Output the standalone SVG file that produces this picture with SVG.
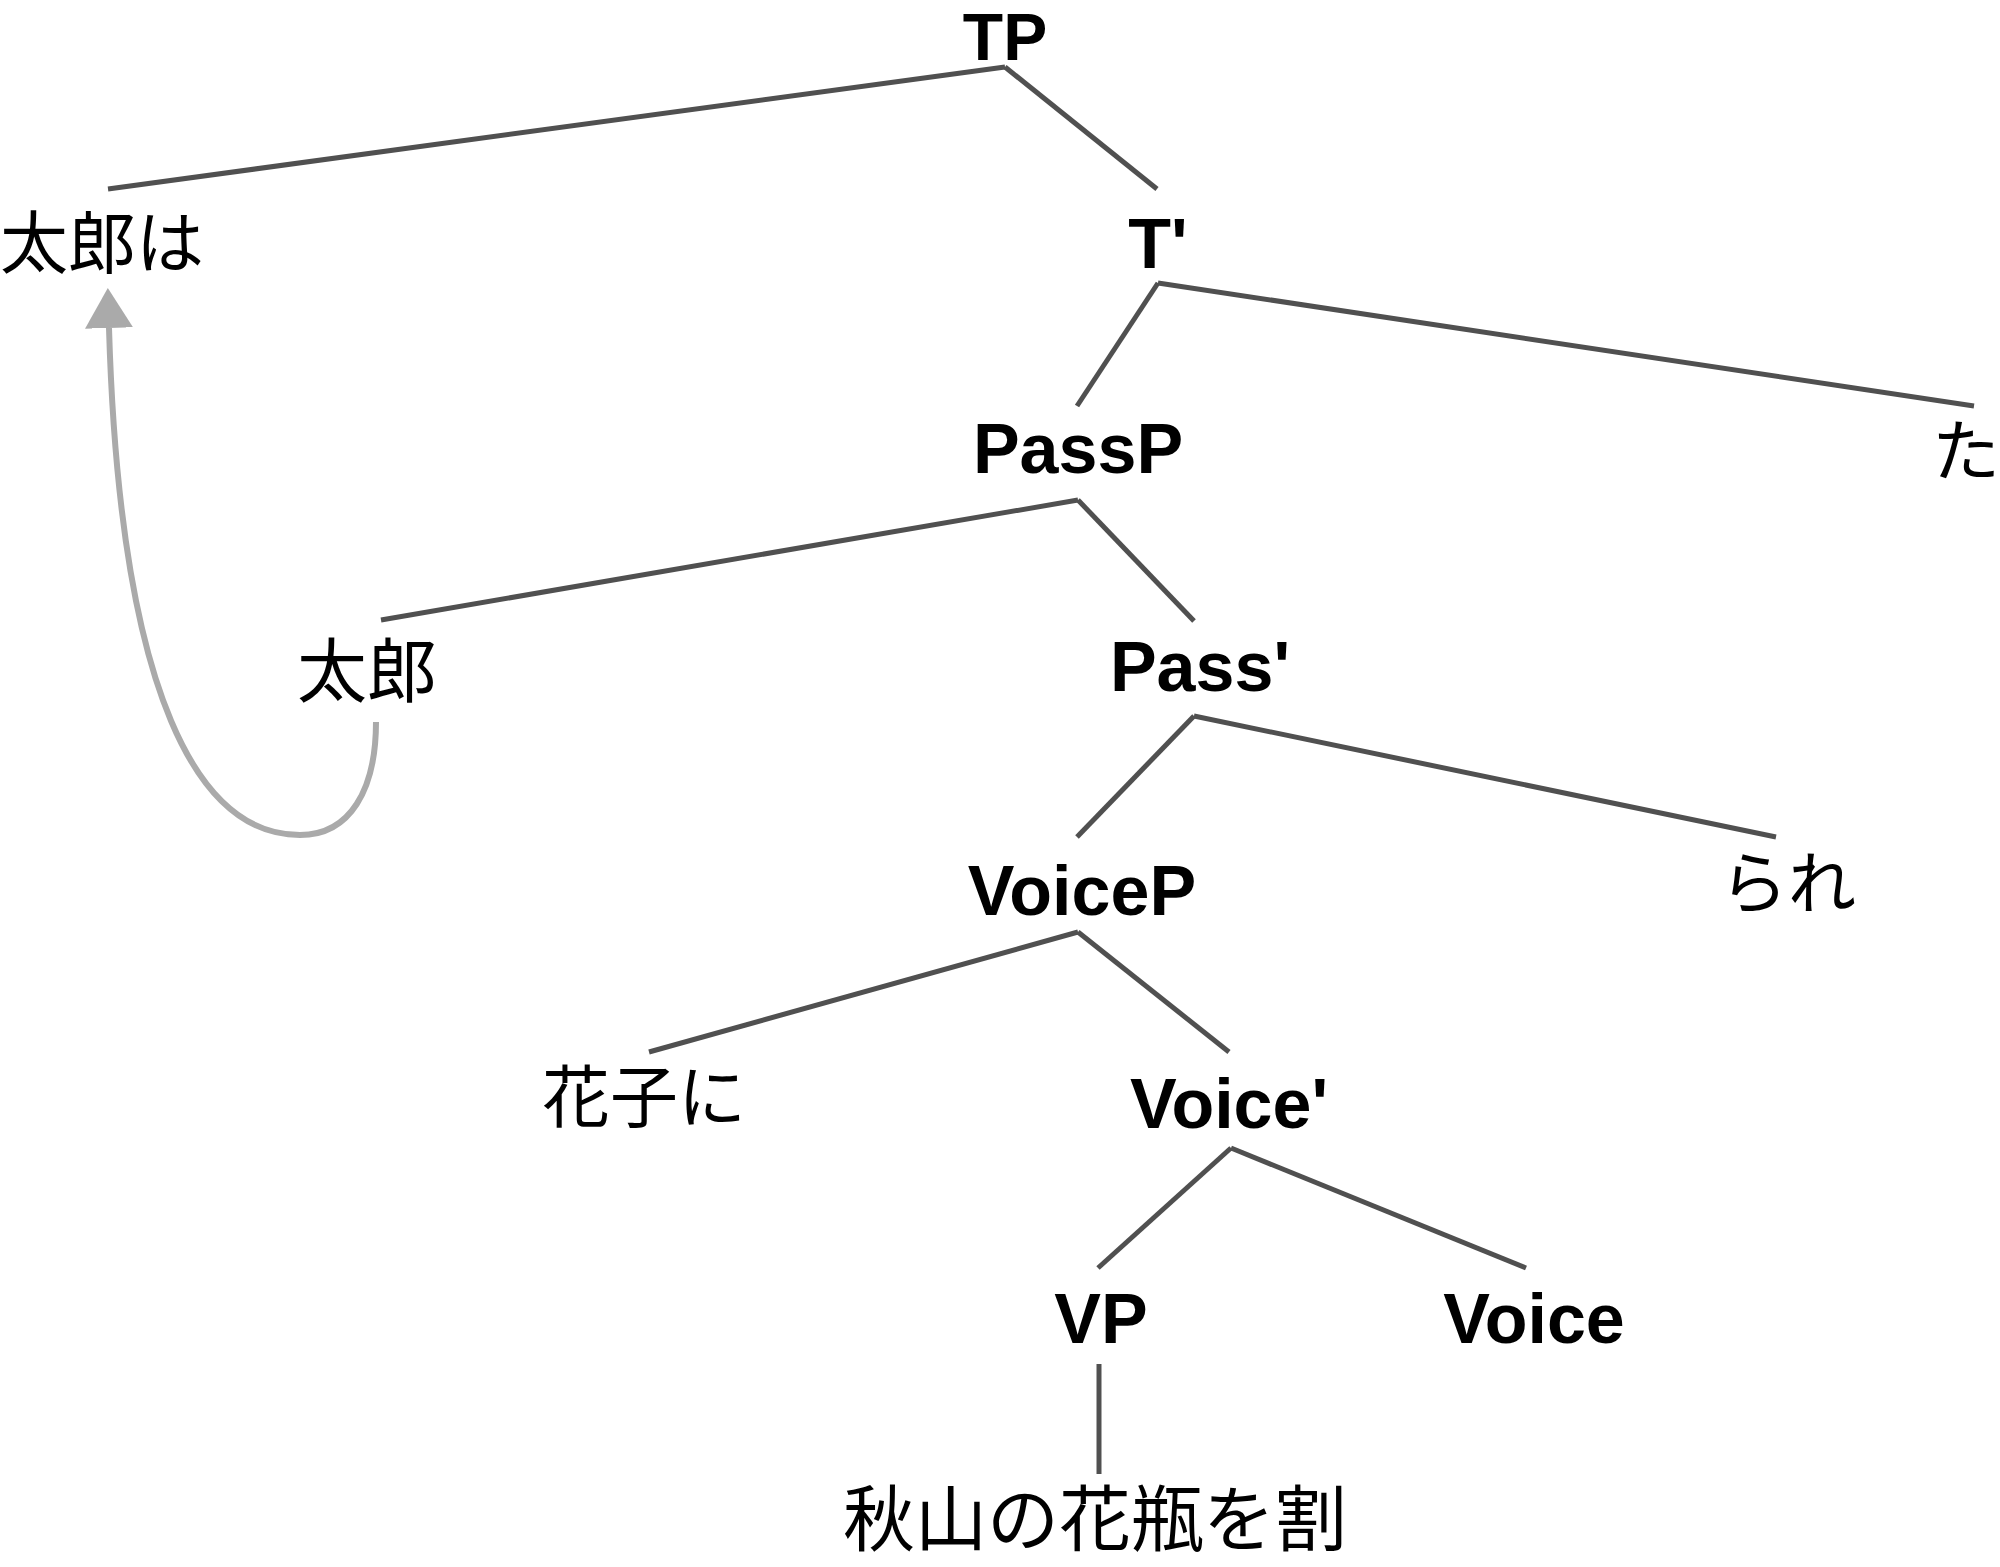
<svg xmlns="http://www.w3.org/2000/svg" width="2000" height="1567" viewBox="0 0 2000 1567">
<style>
.lat{font-family:"Liberation Sans",Arial,sans-serif;font-weight:bold;font-size:70px;fill:#000;text-anchor:middle}
.jp{font-family:"Noto Sans CJK JP","Noto Sans CJK SC",sans-serif;font-size:68px;fill:#000;text-anchor:middle}
.edge{stroke:#505050;stroke-width:5;fill:none;stroke-linecap:butt}
.move{stroke:#aaaaaa;stroke-width:6;fill:none}
</style>
<defs>
<marker id="ah" markerUnits="userSpaceOnUse" markerWidth="44" markerHeight="50" refX="0" refY="24" orient="auto">
<path d="M0,0 L40,24 L0,48 Z" fill="#aaaaaa"/>
</marker>
</defs>
<rect width="2000" height="1567" fill="#fff"/>
<g id="connectors">
<line class="edge" x1="1005" y1="67" x2="108" y2="189"/>
<line class="edge" x1="1005" y1="67" x2="1157" y2="189"/>
<line class="edge" x1="1158" y1="283" x2="1077" y2="406"/>
<line class="edge" x1="1158" y1="283" x2="1974" y2="406"/>
<line class="edge" x1="1078" y1="500" x2="381" y2="620"/>
<line class="edge" x1="1078" y1="500" x2="1194" y2="621"/>
<line class="edge" x1="1194" y1="716" x2="1077" y2="837"/>
<line class="edge" x1="1194" y1="716" x2="1776" y2="837"/>
<line class="edge" x1="1078" y1="932" x2="649" y2="1052"/>
<line class="edge" x1="1078" y1="932" x2="1229" y2="1052"/>
<line class="edge" x1="1231" y1="1148" x2="1098" y2="1268"/>
<line class="edge" x1="1231" y1="1148" x2="1526" y2="1268"/>
<line class="edge" x1="1099" y1="1364" x2="1099" y2="1474"/>
<path class="move" d="M376,722 C376,790 350,835 300,835 C200,835 120,700 109,328" marker-end="url(#ah)"/>
</g>
<g id="n-TP"><text class="lat" x="1005" y="60" style="font-size:66px">TP</text></g>
<g id="n-taroha"><text class="jp" x="102" y="268">太郎は</text></g>
<g id="n-Tbar"><text class="lat" x="1158" y="268">T'</text></g>
<g id="n-PassP"><text class="lat" x="1078" y="473">PassP</text></g>
<g id="n-ta"><text class="jp" x="1932" y="476" style="text-anchor:start">た</text></g>
<g id="n-taro"><text class="jp" x="367" y="697" style="font-size:70px">太郎</text></g>
<g id="n-Passbar"><text class="lat" x="1200" y="691">Pass'</text></g>
<g id="n-VoiceP"><text class="lat" x="1082" y="915">VoiceP</text></g>
<g id="n-rare"><text class="jp" x="1788" y="908">られ</text></g>
<g id="n-hanakoni"><text class="jp" x="644" y="1122">花子に</text></g>
<g id="n-Voicebar"><text class="lat" x="1229" y="1128">Voice'</text></g>
<g id="n-VP"><text class="lat" x="1101" y="1343">VP</text></g>
<g id="n-Voice"><text class="lat" x="1534" y="1343">Voice</text></g>
<g id="n-waru"><text class="jp" x="1095" y="1545" style="font-size:72px">秋山の花瓶を割</text></g>
</svg>
